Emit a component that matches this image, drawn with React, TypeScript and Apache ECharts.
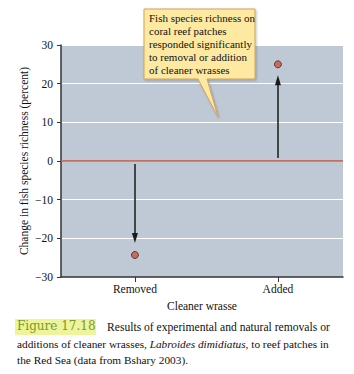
import React, { useEffect, useRef } from "react";
import * as echarts from "echarts";

const categories = ["Removed", "Added"];
const pointValues = [-24.3, 25];
const arrowStarts = [-0.8, 0.8];
const arrowEnds = [-19.9, 20.9];
const yTicks = { min: -30, max: 30, interval: 10 };
const calloutLines = [
  "Fish species richness on",
  "coral reef patches",
  "responded significantly",
  "to removal or addition",
  "of cleaner wrasses",
];

const SERIF = "'Liberation Serif', 'DejaVu Serif', serif";

export default function App() {
  const ref = useRef<HTMLDivElement>(null);
  useEffect(() => {
    if (!ref.current) return;
    const chart = echarts.init(ref.current, undefined, { renderer: "svg" });
    const option: any = {
      animation: false,
      backgroundColor: "#ffffff",
      textStyle: { fontFamily: SERIF },
      grid: {
        left: 61,
        right: 11,
        top: 45,
        bottom: 97,
        show: true,
        backgroundColor: "#bfc9d5",
        borderWidth: 0,
      },
      xAxis: {
        type: "value",
        min: -0.517,
        max: 1.455,
        name: "Cleaner wrasse",
        nameLocation: "middle",
        nameGap: 23,
        nameMoveOverlap: false,
        nameTextStyle: { fontFamily: SERIF, fontSize: 11.5, color: "#111" },
        axisLine: { onZero: false, lineStyle: { color: "#333", width: 1.5 } },
        axisTick: { customValues: [0, 1], length: 5, lineStyle: { color: "#333" } },
        axisLabel: {
          customValues: [0, 1],
          formatter: (v: number) => categories[Math.round(v)] ?? "",
          fontFamily: SERIF,
          fontSize: 11.5,
          color: "#111",
          margin: 6,
        },
        splitLine: { show: false },
      },
      yAxis: {
        type: "value",
        min: yTicks.min,
        max: yTicks.max,
        interval: yTicks.interval,
        name: "Change in fish species richness (percent)",
        nameLocation: "middle",
        nameGap: 31,
        nameMoveOverlap: false,
        nameTextStyle: { fontFamily: SERIF, fontSize: 11.5, color: "#111" },
        axisLine: { show: true, onZero: false, lineStyle: { color: "#333", width: 1.5 } },
        axisTick: { show: true, length: 4, lineStyle: { color: "#333" } },
        axisLabel: {
          formatter: (v: number) => (v < 0 ? "\u2212" + Math.abs(v) : String(v)),
          fontFamily: SERIF,
          fontSize: 11.5,
          color: "#111",
          margin: 8,
        },
        splitLine: { show: true, lineStyle: { color: "#ffffff", width: 1 } },
      },
      series: [
        {
          type: "scatter",
          data: pointValues.map((v, i) => [i, v]),
          symbolSize: 7,
          itemStyle: { color: "#c9553c", borderColor: "#4a2418", borderWidth: 1 },
          z: 5,
          markLine: {
            silent: true,
            symbol: ["none", "none"],
            label: { show: false },
            lineStyle: { color: "#c9553c", width: 1.5, type: "solid" },
            data: [{ yAxis: 0 }],
          },
        },
        {
          type: "scatter",
          data: [],
          markLine: {
            silent: true,
            symbol: ["none", "triangle"],
            symbolSize: [6, 10],
            label: { show: false },
            lineStyle: { color: "#1a1a1a", width: 1.5, type: "solid" },
            itemStyle: { color: "#1a1a1a" },
            data: arrowStarts.map((s, i) => [
              { coord: [i, s] },
              { coord: [i, arrowEnds[i]] },
            ]),
          },
        },
      ],
      graphic: [
        {
          type: "polygon",
          shape: {
            points: [
              [144, 9],
              [255, 9],
              [255, 79],
              [207, 79],
              [218, 117],
              [198, 79],
              [144, 79],
            ],
          },
          style: {
            fill: "#fde9a2",
            stroke: "#d3a35a",
            lineWidth: 1,
            shadowBlur: 2,
            shadowOffsetX: 1,
            shadowOffsetY: 1,
            shadowColor: "rgba(0,0,0,0.25)",
          },
          z: 10,
        },
        {
          type: "text",
          left: 149,
          top: 12,
          style: {
            text: calloutLines.join("\n"),
            font: `11px ${SERIF}`,
            lineHeight: 12.8,
            fill: "#111",
          },
          z: 11,
        },
        {
          type: "rect",
          shape: { x: 15, y: 319, width: 81, height: 16 },
          style: { fill: "#eef49b" },
          z: 10,
        },
        {
          type: "text",
          left: 17,
          top: 320,
          style: {
            text: "Figure 17.18",
            font: `12px 'DejaVu Serif', serif`,
            fill: "#7f9a22",
          },
          z: 11,
        },
        {
          type: "text",
          left: 107,
          top: 321,
          style: {
            text: "Results of experimental and natural removals or",
            font: `11.6px ${SERIF}`,
            fill: "#111",
          },
          z: 11,
        },
        {
          type: "text",
          left: 17,
          top: 338,
          style: {
            text: "{n|additions of cleaner wrasses, }{i|Labroides dimidiatus}{n|, to reef patches in}",
            rich: {
              n: { font: `11.3px ${SERIF}`, fill: "#111" },
              i: { font: `italic 11.3px ${SERIF}`, fill: "#111" },
            },
          },
          z: 11,
        },
        {
          type: "text",
          left: 17,
          top: 354,
          style: {
            text: "the Red Sea (data from Bshary 2003).",
            font: `11.3px ${SERIF}`,
            fill: "#111",
          },
          z: 11,
        },
      ],
    };
    chart.setOption(option);
    return () => chart.dispose();
  }, []);
  return (
    <div
      ref={ref}
      style={{ position: "fixed", left: 0, top: 0, width: 354, height: 374 }}
    />
  );
}
